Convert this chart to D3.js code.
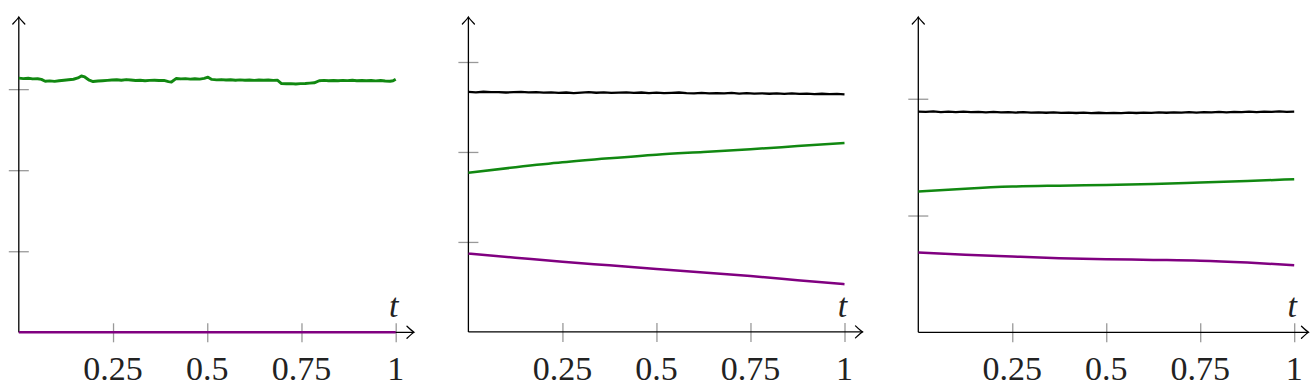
<!DOCTYPE html>
<html><head><meta charset="utf-8">
<script src="https://cdn.jsdelivr.net/npm/d3@7"></script>
<style>body{margin:0;background:#fff}svg{display:block}</style>
</head><body>
<svg id="c" width="1311" height="392"></svg>
<script>
const xTicks = [0.25, 0.5, 0.75, 1];
const xTickLabels = ["0.25", "0.5", "0.75", "1"];
const yTicks1 = [1, 2, 3];
const yTicks2 = [1, 2, 3];
const yTicks3 = [1, 2];

const tFine = [0,0.02,0.04,0.06,0.08,0.1,0.12,0.14,0.16,0.18,0.2,0.22,0.24,0.26,0.28,0.3,0.32,0.34,0.36,0.38,0.4,0.42,0.44,0.46,0.48,0.5,0.52,0.54,0.56,0.58,0.6,0.62,0.64,0.66,0.68,0.7,0.72,0.74,0.76,0.78,0.8,0.82,0.84,0.86,0.88,0.9,0.92,0.94,0.96,0.98,1];
const tCoarse = [0,0.125,0.25,0.375,0.5,0.625,0.75,0.875,1];

// Panel 1
const p1GreenT = [0,0.012,0.025,0.037,0.05,0.06,0.07,0.082,0.095,0.107,
  0.12,0.132,0.145,0.157,0.166,0.175,0.187,0.197,0.21,0.222,
  0.235,0.247,0.26,0.272,0.285,0.297,0.31,0.322,0.335,0.347,
  0.36,0.372,0.385,0.397,0.405,0.418,0.43,0.442,0.455,0.467,
  0.48,0.492,0.502,0.512,0.525,0.537,0.55,0.562,0.575,0.587,
  0.6,0.612,0.625,0.637,0.65,0.662,0.675,0.686,0.697,0.71,
  0.722,0.735,0.747,0.76,0.772,0.784,0.797,0.81,0.822,0.835,
  0.847,0.86,0.872,0.885,0.897,0.91,0.922,0.935,0.947,0.96,
  0.972,0.985,0.993,1];
const p1GreenV = [3.136,3.130,3.134,3.126,3.128,3.120,3.098,3.102,3.096,3.104,
  3.110,3.116,3.122,3.138,3.162,3.150,3.110,3.094,3.100,3.104,
  3.108,3.112,3.115,3.110,3.118,3.112,3.106,3.110,3.104,3.108,
  3.110,3.106,3.108,3.092,3.088,3.132,3.126,3.130,3.124,3.128,
  3.124,3.132,3.148,3.120,3.114,3.118,3.112,3.116,3.110,3.114,
  3.110,3.113,3.108,3.112,3.109,3.112,3.108,3.110,3.068,3.066,
  3.068,3.064,3.068,3.070,3.074,3.078,3.104,3.108,3.104,3.107,
  3.103,3.108,3.105,3.109,3.104,3.107,3.103,3.106,3.102,3.106,
  3.100,3.098,3.104,3.123];
const p1PurpleT = [0, 1];
const p1PurpleV = [0, 0];

// Panel 2
const p2Black = [2.667,2.663,2.669,2.664,2.666,2.661,2.665,2.668,2.662,2.664,2.659,2.663,2.657,2.661,2.655,2.66,2.664,2.658,2.662,2.656,2.66,2.663,2.657,2.661,2.655,2.659,2.653,2.657,2.661,2.655,2.652,2.656,2.65,2.655,2.651,2.656,2.649,2.653,2.648,2.652,2.647,2.651,2.646,2.65,2.645,2.649,2.643,2.647,2.642,2.646,2.641];
const p2Green = [1.77,1.83,1.885,1.93,1.97,2.0,2.03,2.065,2.10];
const p2Purple = [0.87,0.825,0.78,0.74,0.70,0.66,0.62,0.575,0.53];

// Panel 3
const p3Black = [1.890,1.887,1.891,1.886,1.889,1.885,1.889,1.886,1.888,1.884,1.887,1.883,1.886,1.882,1.885,1.881,1.884,1.88,1.883,1.879,1.882,1.878,1.881,1.877,1.880,1.876,1.879,1.877,1.881,1.878,1.882,1.879,1.883,1.880,1.884,1.881,1.885,1.882,1.886,1.883,1.887,1.884,1.888,1.885,1.889,1.886,1.890,1.887,1.891,1.888,1.890];
const p3Green = [1.205,1.23,1.248,1.256,1.262,1.27,1.282,1.295,1.311];
const p3Purple = [0.684,0.664,0.649,0.635,0.626,0.62,0.613,0.597,0.575];

const GREEN = "#118811", PURPLE = "#800080", BLACK = "#000";

const panels = [
  {x0: 18.8, x1: 395.7, yBase: 332.3, yMax: 3.89, arrowX: 414, yTicks: yTicks1,
   series: [
     {t: p1GreenT, v: p1GreenV, color: GREEN, w: 2.9, curve: d3.curveLinear},
     {t: p1PurpleT, v: p1PurpleV, color: PURPLE, w: 2.4, curve: d3.curveLinear}
   ]},
  {x0: 468.4, x1: 844.5, yBase: 331.9, yMax: 3.5, arrowX: 862.5, yTicks: yTicks2,
   series: [
     {t: tFine, v: p2Black, color: BLACK, w: 2.3, curve: d3.curveLinear},
     {t: tCoarse, v: p2Green, color: GREEN, w: 2.5, curve: d3.curveMonotoneX},
     {t: tCoarse, v: p2Purple, color: PURPLE, w: 2.5, curve: d3.curveMonotoneX}
   ]},
  {x0: 918.3, x1: 1294.2, yBase: 332.3, yMax: 2.7, arrowX: 1308.5, yTicks: yTicks3,
   series: [
     {t: tFine, v: p3Black, color: BLACK, w: 2.3, curve: d3.curveLinear},
     {t: tCoarse, v: p3Green, color: GREEN, w: 2.5, curve: d3.curveMonotoneX},
     {t: tCoarse, v: p3Purple, color: PURPLE, w: 2.5, curve: d3.curveMonotoneX}
   ]}
];

const svg = d3.select("#c");
const yTop = 17;
const FONT = "'Liberation Serif', 'DejaVu Serif', serif";

panels.forEach(p => {
  const x = d3.scaleLinear().domain([0, 1]).range([p.x0, p.x1]);
  const y = d3.scaleLinear().domain([0, p.yMax]).range([p.yBase, yTop]);
  const g = svg.append("g");

  // x ticks (gray, crossing axis) built from the scale via d3.axisBottom
  const xAxis = d3.axisBottom(x).tickValues(xTicks).tickSizeInner(19).tickSizeOuter(0)
    .tickPadding(12).tickFormat((d, i) => xTickLabels[i]);
  const gx = g.append("g").attr("transform", `translate(0,${p.yBase - 9})`).call(xAxis);
  gx.select(".domain").remove();
  gx.selectAll(".tick line").attr("stroke", "#999").attr("stroke-width", 1.3);
  gx.selectAll(".tick text").remove();
  g.selectAll(null).data(xTicks).enter().append("text")
    .attr("x", d => x(d)).attr("y", 380)
    .attr("text-anchor", "middle")
    .attr("font-family", FONT)
    .attr("font-size", 34).attr("fill", "#222")
    .text((d, i) => xTickLabels[i]);

  // y ticks
  const yAxis = d3.axisRight(y).tickValues(p.yTicks).tickSizeInner(20).tickSizeOuter(0).tickFormat(() => "");
  const gy = g.append("g").attr("transform", `translate(${p.x0 - 10},0)`).call(yAxis);
  gy.select(".domain").remove();
  gy.selectAll(".tick line").attr("stroke", "#999").attr("stroke-width", 1.3);

  // axes
  g.append("line").attr("x1", p.x0).attr("x2", p.arrowX).attr("y1", p.yBase).attr("y2", p.yBase)
    .attr("stroke", "#000").attr("stroke-width", 1.3);
  g.append("line").attr("x1", p.x0).attr("x2", p.x0).attr("y1", p.yBase).attr("y2", yTop)
    .attr("stroke", "#000").attr("stroke-width", 1.3);
  // arrowheads
  const ax = p.arrowX, ay = p.yBase;
  g.append("path")
    .attr("d", `M${ax-7},${ay-6} Q${ax-2},${ay-1.2} ${ax},${ay} Q${ax-2},${ay+1.2} ${ax-7},${ay+6}`)
    .attr("fill", "none").attr("stroke", "#000").attr("stroke-width", 1.3).attr("stroke-linecap", "round");
  const bx = p.x0, by = yTop;
  g.append("path")
    .attr("d", `M${bx-6},${by+7} Q${bx-1.2},${by+2} ${bx},${by} Q${bx+1.2},${by+2} ${bx+6},${by+7}`)
    .attr("fill", "none").attr("stroke", "#000").attr("stroke-width", 1.3).attr("stroke-linecap", "round");

  // t label
  g.append("text").attr("x", p.x1 - 2).attr("y", 317).attr("text-anchor", "middle")
    .attr("font-family", FONT)
    .attr("font-style", "italic").attr("font-size", 34).attr("fill", "#222").text("t");

  // series
  p.series.forEach(s => {
    const data = d3.zip(s.t, s.v);
    const line = d3.line().x(d => x(d[0])).y(d => y(d[1])).curve(s.curve);
    g.append("path").datum(data).attr("d", line)
      .attr("fill", "none").attr("stroke", s.color).attr("stroke-width", s.w)
      .attr("stroke-linejoin", "round");
  });
});
</script>
</body></html>
